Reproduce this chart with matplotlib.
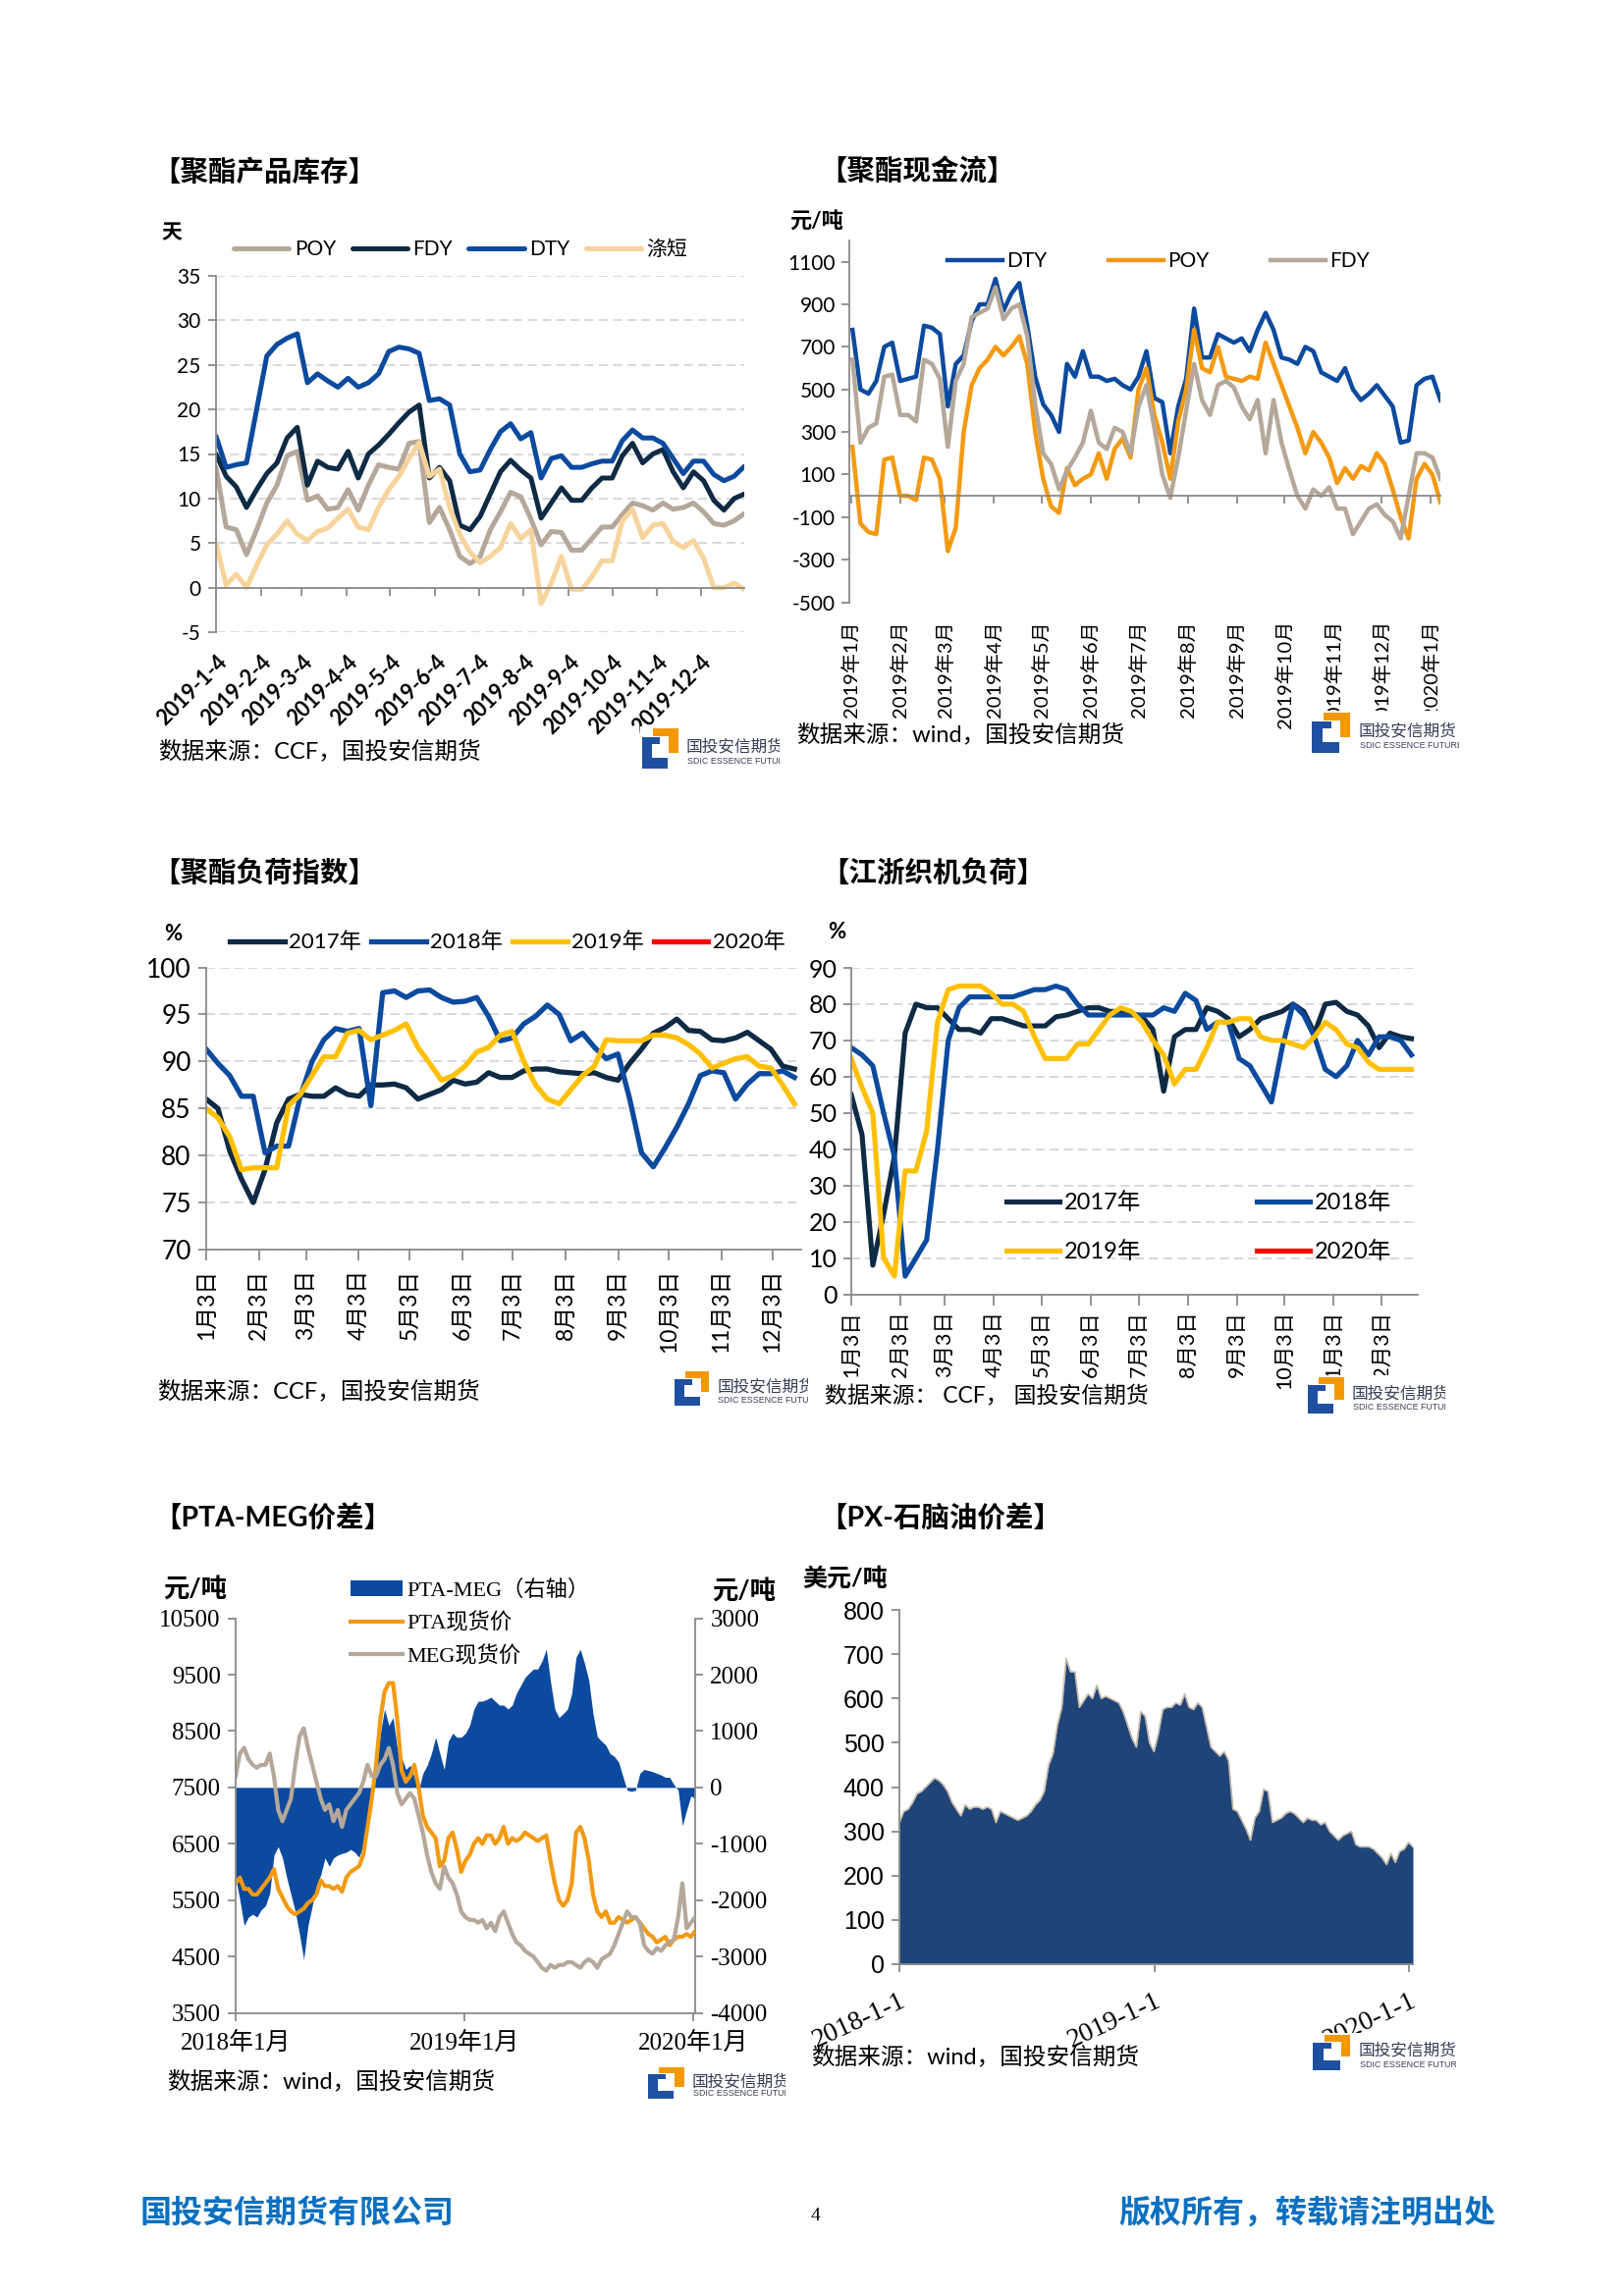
#!/usr/bin/env python3
# -*- coding: utf-8 -*-

##########################################################
# Polyester report page 4: six small charts on one page
##########################################################

import matplotlib
matplotlib.use('Agg')
import matplotlib.pyplot as plt
import pandas as pd

# ---------------- 【聚酯产品库存】 weekly, days ----------------
p1_start = '2019-01-04'
poy1 = [13.5, 6.8, 6.5, 3.7, 6.5, 9.5, 11.5, 14.8, 15.3, 9.8, 10.3, 8.8, 9.0, 11.0, 8.7, 11.5, 13.8, 13.5,
        13.3, 16.2, 16.4, 7.3, 9.0, 6.5, 3.5, 2.7, 3.5, 6.5, 8.5, 10.7, 10.2, 7.7, 4.8, 6.3, 6.2, 4.2, 4.2,
        5.5, 6.8, 6.8, 8.2, 9.5, 9.2, 8.7, 9.5, 8.8, 9.0, 9.5, 8.5, 7.2, 7.0, 7.5, 8.3]
fdy1 = [15, 12.5, 11.3, 9, 11, 12.8, 14, 16.8, 18, 11.5, 14.2, 13.5, 13.3, 15.3, 12.3, 15, 16, 17.2, 18.5,
        19.7, 20.5, 12.3, 13.5, 12, 7, 6.5, 8, 10.5, 13, 14.3, 13.2, 12.3, 7.8, 9.5, 11.2, 9.8, 9.8, 11.2,
        12.3, 12.3, 14.8, 16.2, 14, 15, 15.5, 13, 11.2, 13, 12, 9.8, 8.7, 10, 10.5]
dty1 = [17, 13.5, 13.8, 14, 20, 26, 27.3, 28, 28.5, 23, 24, 23.2, 22.5, 23.5, 22.5, 23, 24, 26.5, 27, 26.8,
        26.3, 21, 21.2, 20.5, 15, 13, 13.2, 15.5, 17.5, 18.4, 16.7, 17.4, 12.3, 14.5, 14.8, 13.5, 13.5, 13.9,
        14.2, 14.2, 16.5, 17.7, 16.8, 16.8, 16.2, 14.5, 12.8, 14.2, 14.2, 12.7, 12, 12.5, 13.6]
short1 = [5, 0.3, 1.5, 0, 2.5, 4.8, 6, 7.5, 6, 5.3, 6.3, 6.7, 7.8, 8.8, 6.8, 6.5, 9, 11, 12.5, 14.5, 16.3,
          12.5, 13.3, 9, 6, 4, 2.8, 3.5, 4.5, 7.2, 5.5, 6.5, -1.8, 0.5, 3.5, -0.2, -0.2, 1.2, 3, 3, 7.5,
          8.8, 5.6, 7, 7.2, 5.2, 4.5, 5.3, 3.3, 0, 0, 0.5, -0.2]
p1_ticks = ['2019-%02d-04' % m for m in range(1, 13)]
p1_ticklabels = ['2019-%d-4' % m for m in range(1, 13)]

# ---------------- 【聚酯现金流】 yuan/ton, every 5 days ----------------
p2_start = '2019-01-02'
dty2 = [780, 500, 480, 540, 700, 720, 540, 550, 560, 800, 790, 760, 420, 620, 660, 820, 900, 900, 1020, 870,
        950, 1000, 800, 560, 430, 380, 300, 620, 560, 680, 560, 560, 540, 550, 520, 500, 560, 680, 460, 440,
        200, 420, 550, 880, 650, 650, 760, 740, 720, 740, 680, 780, 860, 780, 650, 640, 620, 700, 680, 580,
        560, 540, 600, 500, 450, 480, 520, 470, 420, 250, 260, 520, 550, 560, 450]
poy2 = [230, -130, -170, -180, 170, 180, 0, 0, -20, 180, 170, 80, -260, -150, 300, 520, 600, 640, 700, 660,
        700, 750, 620, 300, 80, -50, -80, 130, 50, 80, 100, 200, 80, 220, 270, 180, 500, 600, 380, 250,
        80, 350, 500, 780, 600, 580, 700, 560, 550, 540, 560, 550, 720, 620, 520, 420, 320, 200, 300, 250,
        180, 60, 130, 80, 140, 120, 200, 150, 30, -100, -200, 80, 150, 100, -30]
fdy2 = [640, 250, 320, 340, 560, 570, 380, 380, 350, 640, 620, 550, 230, 540, 620, 840, 860, 880, 980, 830,
        880, 900, 750, 430, 200, 150, 30, 120, 180, 250, 400, 250, 220, 320, 300, 200, 420, 520, 320, 100,
        -10, 180, 400, 620, 450, 380, 520, 540, 510, 420, 360, 450, 200, 450, 250, 120, 0, -60, 30, 0,
        40, -60, -60, -180, -120, -60, -40, -90, -120, -200, 0, 200, 200, 180, 80]
p2_ticks = ['2019-%02d-01' % m for m in range(1, 13)] + ['2020-01-01']
p2_ticklabels = ['2019年%d月' % m for m in range(1, 13)] + ['2020年1月']

# ---------------- 【聚酯负荷指数】 % ----------------
load17 = [86, 85, 80.5, 77.5, 75, 78.5, 83.5, 86, 86.5, 86.3, 86.3, 87.2, 86.5, 86.3, 87.5, 87.5, 87.6, 87.2,
          86, 86.5, 87, 88, 87.6, 87.8, 88.8, 88.3, 88.3, 89, 89.2, 89.2, 88.9, 88.8, 88.7, 88.8, 88.3, 88,
          89.8, 91.3, 93, 93.6, 94.5, 93.3, 93.2, 92.3, 92.2, 92.5, 93.1, 92.2, 91.3, 89.5, 89.2]
load18 = [91.3, 89.8, 88.5, 86.3, 86.3, 80.3, 81, 81, 86.3, 90, 92.3, 93.5, 93.2, 93.5, 85.3, 97.3, 97.5,
          96.8, 97.5, 97.6, 96.8, 96.3, 96.4, 96.8, 94.8, 92.2, 92.5, 94, 94.8, 96, 95, 92.2, 93, 91.5, 90.3,
          90.8, 86, 80.3, 78.8, 80.8, 83, 85.5, 88.5, 89, 88.8, 86, 87.6, 88.7, 88.7, 89, 88.3]
load19 = [85, 84, 82, 78.5, 78.7, 78.7, 78.7, 85.3, 86.5, 88.5, 90.5, 90.5, 93, 93.3, 92.3, 92.8, 93.3, 94,
          91.5, 89.8, 88, 88.5, 89.5, 91, 91.5, 92.8, 93.2, 90, 87.5, 86, 85.5, 87, 88.5, 89.5, 92.3, 92.2,
          92.2, 92.2, 92.8, 92.8, 92.5, 91.8, 90.8, 89.3, 89.8, 90.3, 90.5, 89.5, 89.3, 87.5, 85.5]
p3_span = ('2019-01-03', '2019-12-16')
day_ticks = ['2019-%02d-03' % m for m in range(1, 13)]
day_ticklabels = ['%d月3日' % m for m in range(1, 13)]

# ---------------- 【江浙织机负荷】 % ----------------
loom17 = [55, 44, 8, 22, 38, 72, 80, 79, 79, 76, 73, 73, 72, 76, 76, 75, 74, 74, 74, 76.5, 77, 78, 79, 79,
          78, 78, 77.5, 76.5, 73, 56, 71, 73, 73, 79, 78, 76, 71, 73, 76, 77, 78, 80, 78, 72, 80, 80.5, 78,
          77, 74, 68, 72, 71, 70.5]
loom18 = [68, 66, 63, 50, 38, 5, 10, 15, 40, 70, 79, 82, 82, 82, 82, 82, 83, 84, 84, 85, 84, 80, 77, 77,
          77, 77, 77, 77, 77, 79, 78, 83, 81, 73, 75, 75, 65, 63, 58, 53, 68, 80, 77, 71, 62, 60, 63, 70, 66,
          71, 71, 70, 66]
loom19 = [65, 57, 50, 10, 5, 34, 34, 45, 75, 84, 85, 85, 85, 83, 80, 80, 78, 71, 65, 65, 65, 69, 69, 73,
          77, 79, 78, 75, 70, 66, 58, 62, 62, 68, 75, 75, 76, 76, 71, 70, 70, 69, 68, 71, 75, 73, 69, 68, 64,
          62, 62, 62, 62]
p4_span = ('2019-01-03', '2019-12-22')

# ---------------- 【PTA-MEG价差】 yuan/ton ----------------
p5_span = ('2018-01-01', '2020-01-04')
spread5 = [-1600, -2000, -2450, -2300, -2250, -2300, -2170, -2100, -1880, -1200,
           -1050, -1250, -1600, -1900, -2200, -2600, -3050, -2450, -2100, -1740,
           -1550, -1250, -1400, -1250, -1200, -1170, -1150, -1100, -1150, -1240,
           -1030, -600, -40, 250, 960, 1390, 1100, 1240, 680, 530,
           320, 390, 180, -50, 250, 390, 600, 890, 600, 320,
           820, 960, 890, 890, 960, 1100, 1390, 1530, 1530, 1560,
           1600, 1530, 1460, 1460, 1390, 1460, 1670, 1810, 1950, 2030,
           2100, 2100, 2240, 2450, 1880, 1390, 1240, 1310, 1390, 1670,
           2310, 2450, 2200, 1900, 1300, 900, 820, 750, 600, 550,
           450, 200, -50, -70, -50, 250, 320, 300, 280, 250,
           220, 180, 180, 50, -50, -680, -400, -150, -200]
pta5 = [5800, 5900, 5700, 5700, 5600, 5600, 5700, 5800, 5900, 6050,
        5700, 5550, 5400, 5300, 5250, 5300, 5350, 5450, 5500, 5600,
        5850, 5750, 5750, 5700, 5750, 5650, 5900, 6000, 6050, 6100,
        6300, 6800, 7300, 7900, 8700, 9200, 9350, 9350, 8700, 7800,
        7600, 7700, 7900, 7500, 7000, 6800, 6700, 6600, 6100, 6200,
        6600, 6700, 6400, 6000, 6200, 6300, 6500, 6600, 6500, 6650,
        6650, 6500, 6600, 6800, 6500, 6600, 6550, 6600, 6700, 6650,
        6600, 6550, 6600, 6650, 6200, 5800, 5500, 5400, 5500, 5800,
        6700, 6800, 6600, 6200, 5600, 5300, 5200, 5300, 5100, 5100,
        5200, 5150, 5100, 5150, 5200, 5100, 5000, 4900, 4850, 4750,
        4800, 4850, 4700, 4800, 4850, 4850, 4900, 4850, 4950]
meg5 = [7700, 8100, 8200, 8000, 7900, 7850, 7900, 7900, 8100, 7700,
        7100, 6900, 7100, 7300, 7900, 8400, 8550, 8200, 7900, 7600,
        7300, 7100, 7200, 6900, 7100, 6800, 7100, 7200, 7300, 7400,
        7600, 7900, 7700, 7700, 7900, 8000, 8200, 7900, 7400, 7200,
        7300, 7400, 7300, 7000, 6700, 6300, 6000, 5800, 5700, 6100,
        5900, 5800, 5600, 5300, 5200, 5150, 5150, 5100, 5150, 5000,
        5100, 4950, 5200, 5300, 5100, 4900, 4750, 4700, 4600, 4550,
        4500, 4400, 4300, 4250, 4350, 4300, 4350, 4350, 4400, 4400,
        4350, 4300, 4400, 4450, 4400, 4300, 4450, 4500, 4550, 4700,
        4900, 5100, 5300, 5200, 5200, 5100, 4700, 4600, 4550, 4650,
        4600, 4700, 4750, 4800, 5200, 5800, 5000, 5100, 5200]
year_ticks = ['2018-01-01', '2019-01-01', '2020-01-01']
p5_ticklabels = ['2018年1月', '2019年1月', '2020年1月']

# ---------------- 【PX-石脑油价差】 USD/ton ----------------
p6_span = ('2018-01-01', '2020-01-06')
px6 = [320, 345, 350, 365, 385, 390, 400, 410, 420, 415,
       405, 390, 365, 350, 335, 360, 350, 355, 355, 350,
       355, 350, 320, 345, 340, 335, 330, 325, 330, 335,
       345, 360, 370, 390, 450, 475, 540, 580, 690, 660,
       660, 580, 595, 610, 600, 630, 600, 605, 600, 595,
       590, 570, 540, 510, 490, 570, 560, 500, 480, 520,
       575, 580, 580, 590, 585, 610, 580, 575, 590, 580,
       535, 490, 480, 470, 480, 460, 350, 345, 325, 305,
       280, 330, 345, 395, 390, 320, 325, 330, 340, 345,
       340, 330, 320, 330, 325, 325, 315, 320, 300, 290,
       280, 290, 295, 300, 270, 265, 265, 265, 260, 250,
       240, 225, 250, 230, 255, 260, 275, 265]
p6_ticklabels = ['2018-1-1', '2019-1-1', '2020-1-1']

############################ colours ############################
NAVY = '#0E2A44'
BLUE = '#0B4A9E'
TAN = '#B5A89A'
SAND = '#F7D49C'
ORANGE = '#F39A12'
YELLOW = '#FFC000'
RED = '#FF0000'
GRID = '#D6D6D6'
SPINE = '#8A8A8A'
FOOT = '#0A70C0'

plt.rcParams['font.family'] = ['Lato', 'Noto Sans CJK SC', 'DejaVu Sans']
plt.rcParams['axes.unicode_minus'] = False

W, H = 1654, 2339
fig = plt.figure(figsize=(W / 100, H / 100), dpi=100)
TITLE = 20.5
SRC = 17


def box(l, t, r, b):
    # page pixels -> figure fraction
    return [l / W, 1 - b / H, (r - l) / W, (b - t) / H]


def put(x, y, s, **kw):
    kw.setdefault('va', 'center')
    fig.text(x / W, 1 - y / H, s, **kw)


def frame(ax, sides=('left', 'bottom')):
    for s, sp in ax.spines.items():
        sp.set_visible(s in sides)
        sp.set_color(SPINE)
        sp.set_linewidth(1.3)
    ax.tick_params(direction='out', length=6, width=1.3, color=SPINE, labelcolor='black')
    ax.set_facecolor('none')


def dashgrid(ax):
    ax.grid(axis='y', color=GRID, ls=(0, (5, 3)), lw=1.3)
    ax.set_axisbelow(True)


def logo(l, t, r, b):
    lx = fig.add_axes(box(l, t, r, b))
    lx.set_xlim(0, 140)
    lx.set_ylim(45, 0)
    lx.set_xticks([])
    lx.set_yticks([])
    for sp in lx.spines.values():
        sp.set_visible(False)
    lx.set_facecolor('white')
    lx.add_patch(plt.Polygon([(2, 11), (20, 11), (20, 18), (12, 18), (12, 32), (28, 32), (28, 43), (2, 43)],
                             color='#1F4FA0', lw=0))
    lx.add_patch(plt.Polygon([(13, 2), (38, 2), (38, 27), (29, 27), (29, 10), (13, 10)],
                             color='#F39800', lw=0))
    lx.text(46, 20, '国投安信期货', fontsize=12, color='#3A3F55', va='center', clip_on=True)
    lx.text(47, 36, 'SDIC ESSENCE FUTURES', fontsize=6.4, color='#3A3F55', va='center',
            family='Liberation Sans', clip_on=True)


def bottom_labels(ax, ticks, labels, y, **kw):
    ax.set_xticks(pd.to_datetime(ticks))
    ax.set_xticklabels([])
    for t, s in zip(pd.to_datetime(ticks), labels):
        ax.text(t, y, s, transform=ax.get_xaxis_transform(), **kw)


############################ 【聚酯产品库存】 ############################
put(155, 175, '【聚酯产品库存】', fontsize=TITLE, fontweight='bold')
put(175, 237, '天', fontsize=15, fontweight='bold', ha='center')
ax1 = fig.add_axes(box(220, 281, 758, 644))
frame(ax1)
dashgrid(ax1)
ax1.spines['bottom'].set_position(('data', 0))
d1 = pd.date_range(p1_start, periods=len(poy1), freq='7D')
for vals, c, lab in [(poy1, TAN, 'POY'), (fdy1, NAVY, 'FDY'), (dty1, BLUE, 'DTY'), (short1, SAND, '涤短')]:
    ax1.plot(pd.date_range(p1_start, periods=len(vals), freq='7D'), vals, color=c, lw=3.6, label=lab,
             solid_joinstyle='round', solid_capstyle='round')
ax1.set_ylim(-5, 35)
ax1.set_yticks(range(-5, 36, 5))
ax1.set_xlim(d1[0], d1[-1])
ax1.tick_params(axis='y', labelsize=15, pad=5)
bottom_labels(ax1, p1_ticks, p1_ticklabels, -0.055, rotation=45, ha='right', va='top',
              rotation_mode='anchor', fontsize=15.5, fontweight='bold')
ax1.legend(loc='center', bbox_to_anchor=(469 / W, 1 - 254 / H), bbox_transform=fig.transFigure, ncol=4,
           frameon=False, fontsize=15, handlelength=2.7, handletextpad=0.25, columnspacing=0.8)
put(161, 765, '数据来源：CCF，国投安信期货', fontsize=SRC)
logo(652, 740, 794, 785)

############################ 【聚酯现金流】 ############################
put(834, 174, '【聚酯现金流】', fontsize=TITLE, fontweight='bold')
put(804, 226, '元/吨', fontsize=16, fontweight='bold')
ax2 = fig.add_axes(box(865, 245, 1467, 613.5))
frame(ax2)
ax2.spines['bottom'].set_position(('data', 0))
for vals, c, lab in [(dty2, BLUE, 'DTY'), (poy2, ORANGE, 'POY'), (fdy2, TAN, 'FDY')]:
    ax2.plot(pd.date_range(p2_start, periods=len(vals), freq='5D'), vals, color=c, lw=3.2, label=lab,
             solid_joinstyle='round')
ax2.set_ylim(-500, 1200)
ax2.set_yticks(range(-500, 1101, 200))
ax2.set_xlim(pd.Timestamp('2018-12-31'), pd.Timestamp('2020-01-07'))
ax2.tick_params(axis='y', labelsize=15, pad=4)
bottom_labels(ax2, p2_ticks, p2_ticklabels, -0.05, rotation=90, ha='center', va='top', fontsize=14.5)
ax2.legend(loc='center', bbox_to_anchor=(1180 / W, 1 - 266 / H), bbox_transform=fig.transFigure, ncol=3,
           frameon=False, fontsize=15, handlelength=2.7, handletextpad=0.2, columnspacing=3.0)
put(811, 748, '数据来源：wind，国投安信期货', fontsize=SRC)
logo(1334, 724, 1486, 769)

############################ 【聚酯负荷指数】 ############################
put(155, 889, '【聚酯负荷指数】', fontsize=TITLE, fontweight='bold')
put(176, 952, '%', fontsize=16, fontweight='bold', ha='center')
ax3 = fig.add_axes(box(210, 985.5, 816, 1273))
frame(ax3)
dashgrid(ax3)
for vals, c, lab in [(load17, NAVY, '2017年'), (load18, BLUE, '2018年'), (load19, YELLOW, '2019年')]:
    ax3.plot(pd.date_range(*p3_span, periods=len(vals)), vals, color=c, lw=3.8, label=lab,
             solid_joinstyle='round')
ax3.plot([], [], color=RED, lw=3.8, label='2020年')
ax3.set_ylim(70, 100)
ax3.set_yticks(range(70, 101, 5))
ax3.set_xlim(pd.Timestamp('2019-01-03'), pd.Timestamp('2019-12-20'))
ax3.set_xticks(pd.to_datetime(day_ticks))
ax3.set_xticklabels(day_ticklabels, rotation=90, fontsize=16.5)
ax3.tick_params(axis='y', labelsize=19, pad=5)
ax3.tick_params(axis='x', length=8, pad=6)
ax3.legend(loc='center', bbox_to_anchor=(517 / W, 1 - 960 / H), bbox_transform=fig.transFigure, ncol=4,
           frameon=False, fontsize=16, handlelength=2.5, handletextpad=0.2, columnspacing=0.45)
put(160, 1417, '数据来源：CCF，国投安信期货', fontsize=SRC)

############################ 【江浙织机负荷】 ############################
put(836, 889, '【江浙织机负荷】', fontsize=TITLE, fontweight='bold')
put(852, 950, '%', fontsize=16, fontweight='bold', ha='center')
ax4 = fig.add_axes(box(867, 986, 1444, 1318.5))
frame(ax4)
dashgrid(ax4)
h17, = ax4.plot(pd.date_range(*p4_span, periods=len(loom17)), loom17, color=NAVY, lw=3.7, label='2017年',
                solid_joinstyle='round')
h18, = ax4.plot(pd.date_range(*p4_span, periods=len(loom18)), loom18, color=BLUE, lw=3.7, label='2018年',
                solid_joinstyle='round')
h19, = ax4.plot(pd.date_range(*p4_span, periods=len(loom19)), loom19, color=YELLOW, lw=3.7, label='2019年',
                solid_joinstyle='round')
h20, = ax4.plot([], [], color=RED, lw=3.7, label='2020年')
ax4.set_ylim(0, 90)
ax4.set_yticks(range(0, 91, 10))
ax4.set_xlim(pd.Timestamp('2019-01-03'), pd.Timestamp('2019-12-26'))
ax4.set_xticks(pd.to_datetime(day_ticks))
ax4.set_xticklabels(day_ticklabels, rotation=90, fontsize=15.5)
ax4.tick_params(axis='y', labelsize=18, pad=4)
ax4.tick_params(axis='x', length=8, pad=4)
ax4.legend(handles=[h17, h19, h18, h20], loc='center', bbox_to_anchor=(1221 / W, 1 - 1250 / H),
           bbox_transform=fig.transFigure, ncol=2, frameon=False, fontsize=17, handlelength=2.3,
           handletextpad=0.2, columnspacing=5.0, labelspacing=1.2)
put(840, 1422, '数据来源： CCF， 国投安信期货', fontsize=16.5)

############################ 【PTA-MEG价差】 ############################
put(156, 1546, '【PTA-MEG价差】', fontsize=TITLE, fontweight='bold')
put(166, 1618, '元/吨', fontsize=19, fontweight='bold')
put(725, 1620, '元/吨', fontsize=19, fontweight='bold')
ax5 = fig.add_axes(box(240, 1648.6, 708, 2050.6))
ax5r = ax5.twinx()
frame(ax5, ('left', 'bottom'))
frame(ax5r, ('right',))
d5 = pd.date_range(*p5_span, periods=len(spread5))
fill5 = ax5r.fill_between(d5, 0, spread5, color=BLUE, lw=0, label='PTA-MEG（右轴）')
l5a, = ax5.plot(pd.date_range(*p5_span, periods=len(pta5)), pta5, color=ORANGE, lw=3.0, label='PTA现货价')
l5b, = ax5.plot(pd.date_range(*p5_span, periods=len(meg5)), meg5, color=TAN, lw=3.0, label='MEG现货价')
ax5.set_zorder(ax5r.get_zorder() + 1)
ax5.patch.set_visible(False)
ax5.set_ylim(3500, 10500)
ax5.set_yticks(range(3500, 10501, 1000))
ax5r.set_ylim(-4000, 3000)
ax5r.set_yticks(range(-4000, 3001, 1000))
ax5.set_xlim(d5[0], d5[-1])
ax5.set_xticks(pd.to_datetime(year_ticks))
ax5.set_xticklabels(p5_ticklabels, fontsize=18, family=['Liberation Serif', 'Noto Sans CJK SC'])
ax5.tick_params(axis='y', labelsize=18, labelfontfamily='Liberation Serif', pad=5)
ax5r.tick_params(axis='y', labelsize=18, labelfontfamily='Liberation Serif', pad=5)
ax5.tick_params(axis='x', pad=8)
fig.legend(handles=[fill5, l5a, l5b], loc='center left', bbox_to_anchor=(337 / W, 1 - 1654 / H),
           frameon=False, prop={'family': ['Liberation Serif', 'Noto Sans CJK SC'], 'size': 16},
           handlelength=2.4, handletextpad=0.2, labelspacing=0.55)
put(170, 2120, '数据来源：wind，国投安信期货', fontsize=SRC)
logo(658, 2104, 800, 2140)

############################ 【PX-石脑油价差】 ############################
put(834, 1546, '【PX-石脑油价差】', fontsize=TITLE, fontweight='bold')
put(817, 1608, '美元/吨', fontsize=18, fontweight='bold')
ax6 = fig.add_axes(box(916, 1640, 1439, 2001))
frame(ax6)
d6 = pd.date_range(*p6_span, periods=len(px6))
ax6.fill_between(d6, 0, px6, color='#1F4478', lw=0)
ax6.plot(d6, px6, color='#C9BBAA', lw=1.2)
ax6.set_ylim(0, 800)
ax6.set_yticks(range(0, 801, 100))
ax6.set_xlim(d6[0], d6[-1])
ax6.set_xticks(pd.to_datetime(year_ticks))
ax6.set_xticklabels(p6_ticklabels, rotation=25, ha='right', rotation_mode='anchor', fontsize=20,
                    family='Liberation Serif')
ax6.tick_params(axis='y', labelsize=18, labelfontfamily='Liberation Sans', pad=5)
ax6.tick_params(axis='x', pad=12)
put(826, 2095, '数据来源：wind，国投安信期货', fontsize=SRC)
logo(1335, 2071, 1483, 2111)

# logos of the two load charts sit last so they cover label ends like the original
logo(1330, 1401, 1472, 1442)
logo(685, 1395, 823, 1434)

############################ footer ############################
put(143, 2253, '国投安信期货有限公司', fontsize=23, fontweight='bold', color=FOOT)
put(831, 2258, '4', fontsize=14, family='Liberation Serif', ha='center')
put(1523, 2253, '版权所有，转载请注明出处', fontsize=23, fontweight='bold', color=FOOT, ha='right')

fig.savefig('out.png', dpi=100, facecolor='white')
